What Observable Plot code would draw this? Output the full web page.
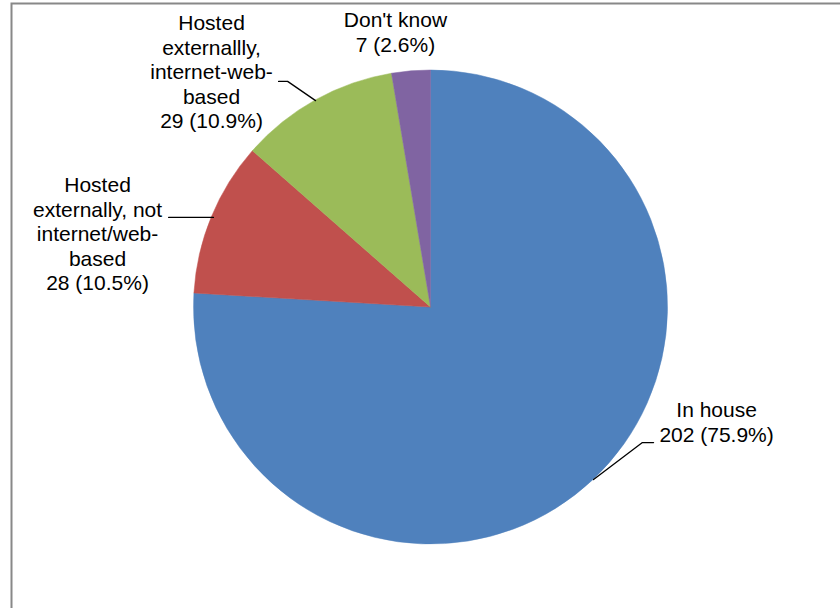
<!DOCTYPE html>
<html>
<head>
<meta charset="utf-8">
<script src="https://cdn.jsdelivr.net/npm/d3@7"></script>
<script src="https://cdn.jsdelivr.net/npm/@observablehq/plot@0.6"></script>
<style>
  html, body { margin: 0; padding: 0; background: #fff; }
  #chart svg { display: block; overflow: hidden; }
</style>
</head>
<body>
<div id="chart"></div>
<script>
// ---- data ----
const categories = ["In house", "Hosted\nexternally, not\ninternet/web-\nbased", "Hosted\nexternallly,\ninternet-web-\nbased", "Don't know"];
const counts = [202, 28, 29, 7];
const percents = ["75.9%", "10.5%", "10.9%", "2.6%"];
const colors = ["#4F81BD", "#C0504D", "#9BBB59", "#8064A2"];

// ---- layout (unit-circle coordinates, y pointing down) ----
const labelPos = [
  {x: 1.205, y: 0.389},    // In house
  {x: -1.407, y: -0.560},  // Hosted externally, not
  {x: -0.926, y: -1.244},  // Hosted externallly, internet
  {x: -0.150, y: -1.256}   // Don't know
];
const leaders = [
  [{x: 0.686, y: 0.726}, {x: 0.892, y: 0.57}, {x: 0.939, y: 0.57}],
  [{x: -0.918, y: -0.38}, {x: -1.107, y: -0.38}],
  [{x: -0.487, y: -0.873}, {x: -0.605, y: -0.954}, {x: -0.643, y: -0.954}]
];

const rows = categories.map((c, i) => ({
  key: c, count: counts[i], pct: percents[i], color: colors[i],
  label: c + "\n" + counts[i] + " (" + percents[i] + ")",
  ...labelPos[i]
}));
const arcs = d3.pie().sort(null).value(d => d.count)(rows);

const cx = 430.5, cy = 307, r = 237;

function pieMark(index, scales, values, dimensions, context) {
  const g = d3.create("svg:g");
  const x0 = scales.x(0), y0 = scales.y(0);
  const rad = scales.x(1) - scales.x(0);
  const arcGen = d3.arc().innerRadius(0).outerRadius(rad);
  g.attr("transform", `translate(${x0},${y0})`)
    .selectAll("path").data(arcs).join("path")
    .attr("d", arcGen)
    .attr("fill", d => d.data.color)
    .attr("stroke", d => d.data.color)
    .attr("stroke-width", 0.5);
  return g.node();
}

const leaderPts = leaders.flatMap((pts, i) => pts.map(p => ({...p, id: i})));

const plot = Plot.plot({
  width: 840,
  height: 608,
  margin: 0,
  x: {domain: [-1, 1], range: [cx - r, cx + r], axis: null},
  y: {domain: [-1, 1], range: [cy - r, cy + r], axis: null},
  style: {fontFamily: "'Liberation Sans', Arial, sans-serif", background: "#fff"},
  marks: [
    pieMark,
    Plot.line(leaderPts, {x: "x", y: "y", z: "id", stroke: "#000", strokeWidth: 1.3}),
    Plot.text(rows, {
      x: "x", y: "y", text: "label", lineAnchor: "top", textAnchor: "middle",
      fontSize: 21, lineHeight: 1.167, fill: "#000"
    }),
    Plot.frame({stroke: "#888", strokeWidth: 2, insetLeft: 11, insetTop: 3, insetRight: -20, insetBottom: -20})
  ]
});
document.getElementById("chart").appendChild(plot);
</script>
</body>
</html>
